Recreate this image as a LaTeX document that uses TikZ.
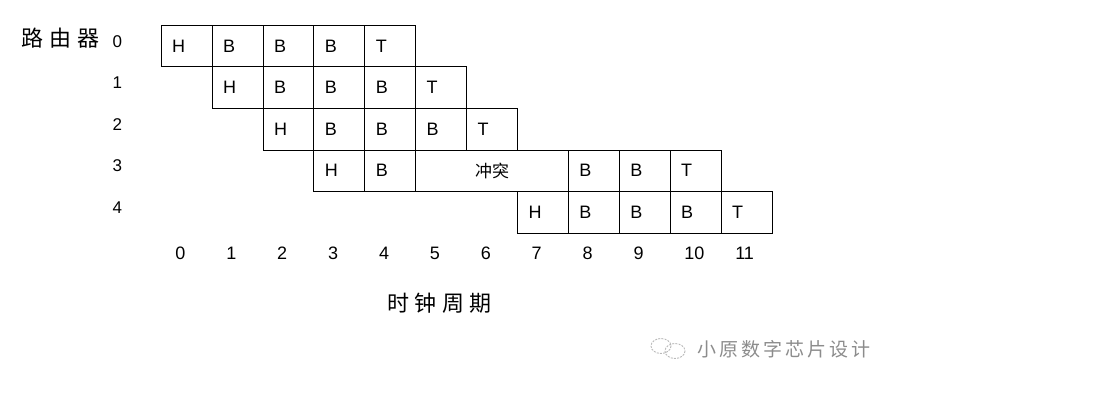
\documentclass[tikz,border=0pt]{standalone}
\usepackage{fontspec}
\setmainfont{Liberation Sans}
\newfontfamily\cjk{Noto Sans CJK SC}
\definecolor{wmgray}{RGB}{140,140,140}
\definecolor{wmlight}{RGB}{185,185,185}
\tikzset{
  cellbox/.style={draw, line width=1pt, rectangle, anchor=north west,
    inner xsep=11pt, inner ysep=0pt, text width=28.9pt, align=left,
    minimum height=41.5pt, font=\fontsize{18pt}{18pt}\selectfont},
  widebox/.style={draw, line width=1pt, rectangle, anchor=north west,
    inner sep=0pt, minimum width=152.7pt, minimum height=41.5pt,
    font=\cjk\fontsize{17pt}{17pt}\selectfont},
  rowlab/.style={anchor=west, inner sep=0pt, font=\fontsize{17pt}{17pt}\selectfont},
  collab/.style={anchor=west, inner sep=0pt, font=\fontsize{18pt}{18pt}\selectfont},
  bigcjk/.style={anchor=west, inner sep=0pt, font=\cjk\fontsize{22pt}{22pt}\selectfont},
  wmtext/.style={anchor=west, inner sep=0pt, text=wmgray, font=\cjk\fontsize{19pt}{19pt}\selectfont}
}
\begin{document}
\begin{tikzpicture}[x=1pt,y=-1pt]
\useasboundingbox (0,0) rectangle (1114,404);
% row 0
\foreach \k/\t in {0/H,1/B,2/B,3/B,4/T}
  \node[cellbox] (c0-\k) at ({160.7+50.9*\k},25) {\t};
% row 1
\foreach \k/\t in {1/H,2/B,3/B,4/B,5/T}
  \node[cellbox] (c1-\k) at ({160.7+50.9*\k},66.5) {\t};
% row 2
\foreach \k/\t in {2/H,3/B,4/B,5/B,6/T}
  \node[cellbox] (c2-\k) at ({160.7+50.9*\k},108) {\t};
% row 3
\foreach \k/\t in {3/H,4/B,8/B,9/B,10/T}
  \node[cellbox] (c3-\k) at ({160.7+50.9*\k},149.5) {\t};
\node[widebox] (c3-5) at ({160.7+50.9*5},149.5) {冲突};
% row 4
\foreach \k/\t in {7/H,8/B,9/B,10/B,11/T}
  \node[cellbox] (c4-\k) at ({160.7+50.9*\k},191) {\t};
% row labels
\foreach \r in {0,...,4}
  \node[rowlab] (r\r) at (112.5,{25+41.5*\r+16.3}) {\r};
\node[bigcjk] (router) at (21,38.5) {路\hspace{6pt}由\hspace{6pt}器};
% column labels
\foreach \k in {0,...,11}
  \node[collab] (k\k) at ({160.7+50.9*\k+14.5},253) {\k};
\node[bigcjk] (clock) at (387,303) {时\hspace{5.5pt}钟\hspace{5.5pt}周\hspace{5.5pt}期};
% watermark
\draw[wmlight, line width=0.9pt, dash pattern=on 2pt off 1.2pt] (661,346) ellipse [x radius=10, y radius=7.5];
\draw[wmlight, line width=0.9pt, dash pattern=on 2pt off 1.2pt] (675,351) ellipse [x radius=10, y radius=7.5];
\node[wmtext] (wm) at (697,349) {小\hspace{3pt}原\hspace{3pt}数\hspace{3pt}字\hspace{3pt}芯\hspace{3pt}片\hspace{3pt}设\hspace{3pt}计};
\end{tikzpicture}
\end{document}
